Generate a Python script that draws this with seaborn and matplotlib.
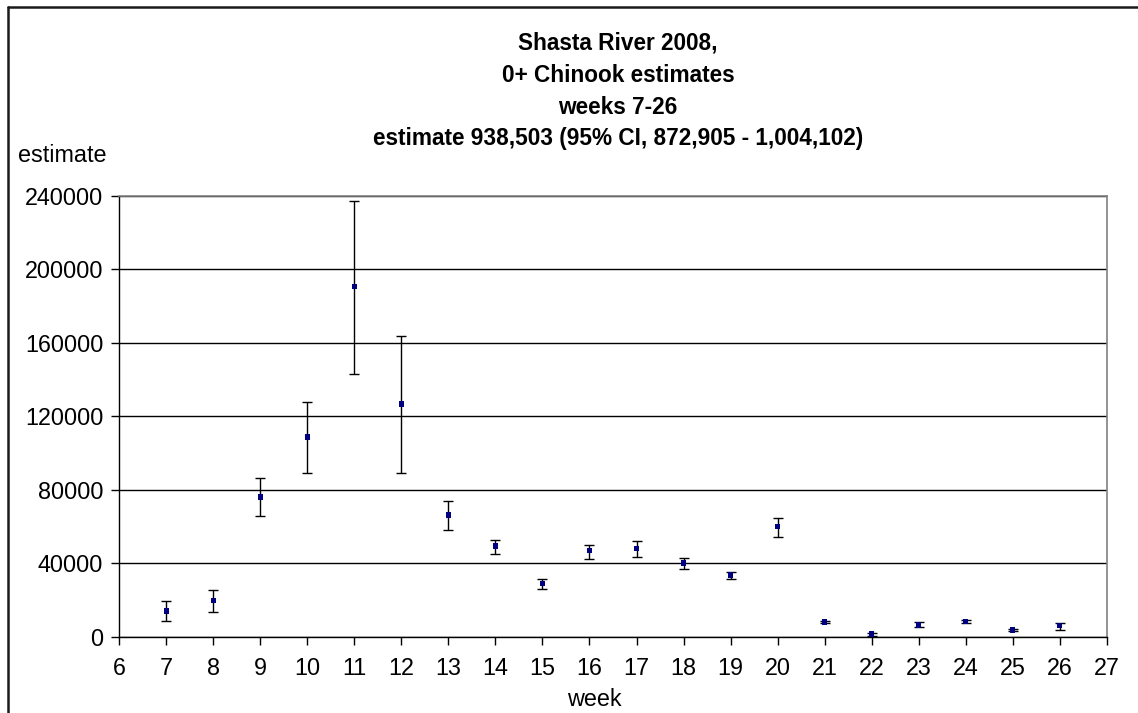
import numpy as np
import pandas as pd
import matplotlib
matplotlib.use("Agg")
import matplotlib.pyplot as plt
from matplotlib.lines import Line2D
import seaborn as sns

# Weekly 0+ Chinook abundance estimates with 95% confidence limits
weeks = [7, 8, 9, 10, 11, 12, 13, 14, 15, 16, 17, 18, 19, 20, 21, 22, 23, 24, 25, 26]
estimate = [14000, 19800, 76000, 108800, 190500, 126500, 66200, 49400, 29000, 46800,
            48100, 40100, 33700, 59900, 8000, 1500, 6500, 8200, 3600, 6000]
ci_lower = [8500, 13600, 65900, 88900, 143100, 88900, 58100, 45200, 26000, 42400,
            43200, 37000, 31400, 54300, 7300, 600, 5100, 7300, 3000, 3600]
ci_upper = [19400, 25400, 86200, 127500, 237300, 163500, 73800, 52800, 31200, 49700,
            52300, 43000, 35200, 64800, 8800, 2100, 7800, 8900, 4400, 7300]

title_lines = ["Shasta River 2008,", "0+ Chinook estimates", "weeks 7-26",
               "estimate 938,503 (95% CI, 872,905 - 1,004,102)"]
x_ticks = list(range(6, 28))
y_ticks = list(range(0, 240001, 40000))

sns.set_theme(style="white")
plt.rcParams['font.family'] = ['Liberation Sans', 'DejaVu Sans']

W, H = 1138, 713
fig = plt.figure(figsize=(W / 100, H / 100), dpi=100)
fig.patch.set_facecolor("white")

# plot area in pixel terms
left, right, top, bottom = 119.3, 1106.7, 195.7, 636.7
ax = fig.add_axes([left / W, 1 - bottom / H, (right - left) / W, (bottom - top) / H])

df = pd.DataFrame({"week": weeks, "estimate": estimate,
                   "lower": ci_lower, "upper": ci_upper})

ax.errorbar(df["week"], df["estimate"],
            yerr=[df["estimate"] - df["lower"], df["upper"] - df["estimate"]],
            fmt="none", ecolor="black", elinewidth=1.0, capsize=3.4, capthick=1.0,
            zorder=3)
sns.scatterplot(data=df, x="week", y="estimate", marker="s", s=16,
                color="#000080", edgecolor="none", ax=ax, zorder=4)

ax.set_xlim(6, 27)
ax.set_ylim(0, 240000)
ax.set_xticks(x_ticks)
ax.set_xticklabels([str(t) for t in x_ticks])
ax.set_yticks(y_ticks)
ax.set_yticklabels([str(t) for t in y_ticks])
ax.set_xlabel("")
ax.set_ylabel("")

ax.yaxis.grid(True, color="black", linewidth=1.0)
ax.xaxis.grid(False)
ax.set_axisbelow(True)

for side in ("left", "bottom"):
    ax.spines[side].set_color("black")
    ax.spines[side].set_linewidth(1.0)
for side in ("top", "right"):
    ax.spines[side].set_color("#808080")
    ax.spines[side].set_linewidth(1.2)

FS = 16.8
ax.tick_params(axis="both", which="major", direction="out", length=5.5, width=1.0,
               color="black", labelsize=FS, labelcolor="black")
ax.tick_params(axis="x", pad=9)
ax.tick_params(axis="y", pad=6)
ax.tick_params(bottom=True, left=True)

# multi-line title
title_y = [43, 75, 107, 139]
for txt, ty in zip(title_lines, title_y):
    fig.text(618 / W, 1 - ty / H, txt, ha="center", va="center",
             fontsize=16.3, fontweight="bold", color="black")

fig.text(18 / W, 1 - 156 / H, "estimate", ha="left", va="center",
         fontsize=FS, color="black")
fig.text(594 / W, 1 - 699 / H, "week", ha="center", va="center",
         fontsize=FS, color="black")

# chart frame edges along the top and left
fig.add_artist(Line2D([8 / W, 1.0], [1 - 7 / H, 1 - 7 / H], transform=fig.transFigure,
                      color="#1a1a1a", linewidth=1.8))
fig.add_artist(Line2D([8 / W, 8 / W], [1 - 7 / H, 0.0], transform=fig.transFigure,
                      color="#1a1a1a", linewidth=1.8))

fig.savefig("out.png", dpi=100, facecolor="white")
